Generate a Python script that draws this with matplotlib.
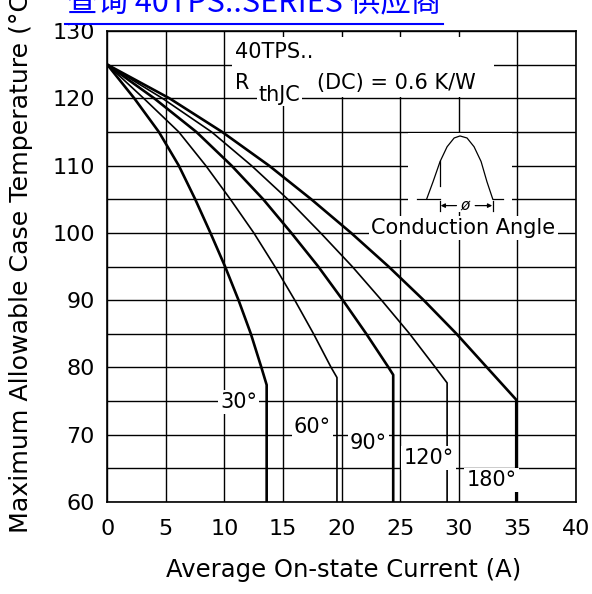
import numpy as np
import matplotlib.pyplot as plt
from matplotlib.patches import Rectangle
from matplotlib.lines import Line2D

plt.rcParams['font.family'] = ['DejaVu Sans']

# curves: average current (A) vs max case temperature (C)
angles = ['30°', '60°', '90°', '120°', '180°']
current_30 = [0, 2.3, 4.4, 6.1, 7.5, 8.8, 10.05, 11.2, 12.25, 13.15, 13.6, 13.6]
temp_30 = [125, 120, 115, 110, 105, 100, 95, 90, 85, 80, 77.4, 60]
current_60 = [0, 3.1, 6.1, 8.4, 10.5, 12.5, 14.3, 16.0, 17.6, 19.1, 19.6, 19.6]
temp_60 = [125, 120, 115, 110, 105, 100, 95, 90, 85, 80, 78.5, 60]
current_90 = [0, 4.0, 7.6, 10.6, 13.3, 15.7, 18.0, 20.1, 22.1, 24.0, 24.4, 24.4]
temp_90 = [125, 120, 115, 110, 105, 100, 95, 90, 85, 80, 78.9, 60]
current_120 = [0, 4.7, 8.9, 12.3, 15.4, 18.2, 20.9, 23.4, 25.8, 28.0, 29.0, 29.0]
temp_120 = [125, 120, 115, 110, 105, 100, 95, 90, 85, 80, 77.7, 60]
current_180 = [0, 5.3, 9.8, 13.8, 17.4, 20.8, 24.0, 27.0, 29.8, 32.4, 34.9, 34.9]
temp_180 = [125, 120, 115, 110, 105, 100, 95, 90, 85, 80, 75.2, 60]

curves = [(current_30, temp_30, 1.9), (current_60, temp_60, 1.2),
          (current_90, temp_90, 1.9), (current_120, temp_120, 1.2),
          (current_180, temp_180, 1.9)]
label_x = [11.2, 17.5, 22.3, 27.4, 32.8]
label_y = [74.9, 71.1, 68.7, 66.6, 63.3]

# little conduction angle sketch (half sine)
wave_x = [27.25, 27.8, 28.4, 29.0, 29.6, 30.1, 30.7, 31.3, 31.9, 32.4, 32.9]
wave_y = [105, 107.6, 110.6, 112.8, 114.1, 114.4, 114.1, 112.8, 110.6, 107.6, 105]

fig = plt.figure(figsize=(5.92, 5.94), dpi=100)
ax = fig.add_axes([107.3/592, 1-502/594, (576-107.3)/592, (502-31)/594])
ax.set_xlim(0, 40)
ax.set_ylim(60, 130)
ax.set_xticks(range(0, 41, 5))
ax.set_yticks(range(60, 131, 10))
ax.set_yticks(range(60, 131, 5), minor=True)
ax.set_axisbelow(True)
ax.grid(True, which='both', color='black', lw=1.0)
ax.tick_params(which='both', length=0, labelsize=16)
ax.tick_params(axis='y', pad=9)
ax.tick_params(axis='x', pad=12)
for s in ax.spines.values():
    s.set_linewidth(1.2)

for cx, cy, lw in curves:
    ax.plot(cx, cy, color='black', lw=lw, zorder=2)

for lab, lx, ly in zip(angles, label_x, label_y):
    ax.text(lx, ly, lab, ha='center', va='center', fontsize=15, zorder=5,
            bbox=dict(facecolor='white', edgecolor='none', pad=1.5))

# device box
ax.add_patch(Rectangle((10.65, 120.25), 22.35, 8.85, facecolor='white',
                       edgecolor='none', zorder=1))
ax.text(10.9, 126.0, '40TPS..', fontsize=15, va='baseline', zorder=5)
ax.text(10.9, 121.4, 'R', fontsize=15, va='baseline', zorder=5)
ax.text(12.9, 119.6, 'thJC', fontsize=15, va='baseline', zorder=5,
        bbox=dict(facecolor='white', edgecolor='none', pad=1))
ax.text(17.9, 121.4, '(DC) = 0.6 K/W', fontsize=15, va='baseline', zorder=5)

# conduction angle sketch
ax.add_patch(Rectangle((25.7, 103.1), 8.8, 11.7, facecolor='white',
                       edgecolor='none', zorder=1))
ax.plot(wave_x, wave_y, color='black', lw=0.9, zorder=3)
ax.plot([26.4, 28.4], [105, 105], color='black', lw=0.9, zorder=3)
ax.plot([32.9, 33.8], [105, 105], color='black', lw=0.9, zorder=3)
ax.plot([28.4, 28.4], [110.7, 106.9], color='black', lw=0.9, zorder=3)
ax.plot([28.4, 28.4], [104.8, 103.3], color='black', lw=0.9, zorder=3)
ax.plot([32.9, 32.9], [104.8, 103.3], color='black', lw=0.9, zorder=3)
ax.annotate('', xy=(28.45, 104.05), xytext=(29.8, 104.05), zorder=3,
            arrowprops=dict(arrowstyle='-|>', color='black', lw=0.9,
                            mutation_scale=6, shrinkA=0, shrinkB=0))
ax.annotate('', xy=(32.85, 104.05), xytext=(31.4, 104.05), zorder=3,
            arrowprops=dict(arrowstyle='-|>', color='black', lw=0.9,
                            mutation_scale=6, shrinkA=0, shrinkB=0))
ax.text(30.55, 104.1, 'ø', fontsize=11, style='italic', ha='center',
        va='center', zorder=5)
ax.text(30.4, 100.7, 'Conduction Angle', fontsize=15, ha='center',
        va='center', zorder=5,
        bbox=dict(facecolor='white', edgecolor='none', pad=1.5))

# axis titles
fig.text(344/592, 1-570/594, 'Average On-state Current (A)', ha='center',
         va='center', fontsize=17.5)
fig.text(21/592, 1-533/594, 'Maximum Allowable Case Temperature (°C)',
         rotation=90, ha='center', va='bottom', fontsize=18.2)

# link-like header at the top, partly cut off
fig.text(254/592, 1-11/594, '查询 40TPS..SERIES 供应商', color='#0000ff',
         fontsize=22, family=['Noto Sans CJK SC', 'DejaVu Sans'],
         ha='center', va='baseline')
fig.add_artist(Line2D([65/592, 443/592], [1-24/594, 1-24/594],
                      color='#0000ff', lw=1.5))

fig.savefig('out.png', dpi=100)
